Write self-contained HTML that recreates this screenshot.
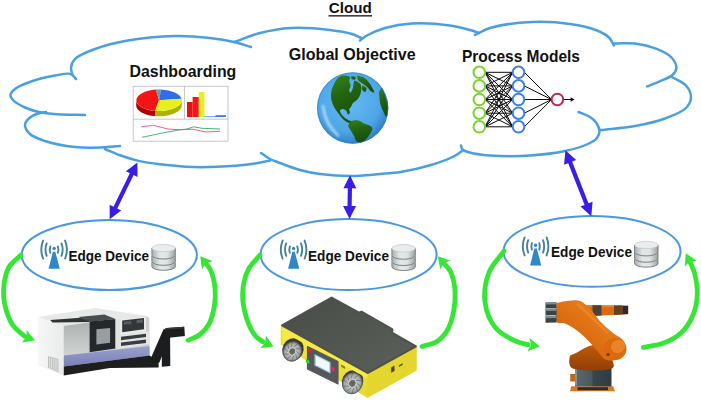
<!DOCTYPE html>
<html><head><meta charset="utf-8"><title>Cloud - Edge Device architecture</title>
<style>
html,body{margin:0;padding:0;background:#ffffff;}
body{width:701px;height:400px;overflow:hidden;font-family:"Liberation Sans",sans-serif;}
svg{display:block;}
</style></head><body>
<svg width="701" height="400" viewBox="0 0 701 400">
<rect width="701" height="400" fill="#ffffff"/>
<g fill="none" stroke="#4a9fe3" stroke-width="2.5" stroke-linecap="round" stroke-linejoin="round">
<path d="M72.5,75.0 C72.0,72.5 70.7,70.0 71.0,67.5 C71.3,64.7 72.5,61.6 75.0,59.0 C78.9,55.0 87.5,51.8 95.0,49.0 C103.8,45.7 113.6,43.1 125.0,41.0 C139.5,38.4 159.8,36.3 175.0,36.0 C187.7,35.7 199.5,36.8 210.0,38.0 C218.8,39.0 226.7,40.3 234.0,42.0 C240.2,43.4 245.3,45.3 251.0,47.0"/>
<path d="M234.0,42.0 C242.7,39.0 250.8,35.3 260.0,33.0 C269.8,30.5 280.0,28.6 291.0,28.0 C303.2,27.3 318.9,28.7 330.0,30.0 C338.4,31.0 346.3,32.3 352.0,34.0 C355.9,35.2 358.3,36.7 361.5,38.0"/>
<path d="M360.0,40.5 C362.0,39.0 363.3,37.5 366.0,36.0 C370.5,33.4 378.0,30.0 385.0,28.0 C393.1,25.7 402.2,24.1 412.0,23.5 C423.6,22.8 439.4,24.0 450.0,25.5 C457.8,26.6 464.7,28.5 470.0,30.0 C473.6,31.0 476.0,32.0 479.0,33.0"/>
<path d="M475.0,35.0 C480.0,32.7 483.6,29.9 490.0,28.0 C500.3,24.9 518.3,22.6 532.0,22.0 C545.0,21.4 558.5,22.3 570.0,24.0 C579.8,25.4 590.0,27.7 597.0,30.5 C602.0,32.5 606.1,34.7 609.0,37.5 C611.4,39.8 612.3,42.8 614.0,45.5"/>
<path d="M614.5,43.5 C621.3,43.5 628.2,42.7 635.0,43.5 C642.0,44.3 649.7,46.1 656.0,48.6 C661.6,50.8 667.5,53.4 671.0,57.0 C673.9,60.0 676.4,64.3 676.4,67.5 C676.4,70.2 674.7,72.9 672.5,75.0 C669.6,77.8 663.4,79.6 659.0,81.6 C654.9,83.4 651.0,84.8 647.0,86.4"/>
<path d="M671.0,76.5 C676.0,79.5 682.6,81.6 686.0,85.5 C688.9,88.8 691.1,93.7 691.0,97.5 C690.9,101.1 689.0,104.9 686.0,108.0 C681.7,112.4 672.8,115.6 665.0,118.5 C656.1,121.8 645.4,124.1 635.0,126.0 C624.0,128.0 612.0,128.7 600.5,130.0"/>
<path d="M578.6,112.0 C582.4,113.7 586.9,115.0 590.0,117.0 C592.5,118.6 594.4,120.3 596.0,122.5 C597.7,124.9 599.4,128.3 599.5,131.0 C599.6,133.4 598.5,136.0 597.0,138.0 C595.2,140.3 592.5,141.8 589.0,143.5 C583.3,146.3 573.8,149.1 565.0,151.0 C554.5,153.3 541.2,154.7 530.0,155.5 C519.6,156.3 508.7,156.2 500.0,156.0 C493.2,155.8 487.6,155.5 482.0,154.8 C477.0,154.1 471.5,153.1 468.0,152.0 C465.7,151.3 463.7,150.7 462.5,149.5 C461.5,148.5 461.5,146.8 461.0,145.5"/>
<path d="M462.0,151.0 C459.2,152.8 457.2,154.7 453.6,156.5 C448.0,159.3 439.2,162.5 431.0,165.0 C421.7,167.8 409.7,170.5 400.5,172.0 C393.0,173.2 387.4,173.4 380.0,174.0 C371.2,174.7 360.8,176.0 351.0,176.0 C340.8,176.0 329.2,175.2 320.0,174.0 C312.6,173.0 306.6,171.8 300.0,170.0 C293.3,168.2 285.5,165.1 280.0,163.0 C276.1,161.5 273.2,160.7 270.0,159.0 C266.8,157.3 264.0,155.0 261.0,153.0"/>
<path d="M270.0,160.5 C265.0,161.5 260.3,162.7 255.0,163.5 C249.0,164.5 243.3,165.2 235.6,165.8 C224.1,166.6 206.1,167.4 192.8,167.0 C181.1,166.7 169.9,165.5 160.0,164.3 C151.8,163.3 144.5,162.2 137.5,160.6 C131.2,159.1 125.6,157.3 120.0,155.3 C114.8,153.4 110.0,151.1 105.0,149.0"/>
<path d="M120.0,146.0 C113.3,146.5 107.0,147.3 100.0,147.5 C92.1,147.7 83.7,147.9 75.0,147.0 C65.4,146.0 53.2,143.7 45.0,141.0 C39.0,139.0 33.4,137.2 30.0,134.0 C27.3,131.5 24.9,127.8 25.0,125.0 C25.1,122.4 27.6,119.5 30.0,117.5 C32.7,115.2 38.0,113.5 41.0,112.7 C42.9,112.2 44.3,112.2 46.0,112.0"/>
<path d="M85.0,115.0 C77.5,114.8 69.9,114.9 62.5,114.5 C55.2,114.1 47.6,113.8 41.0,112.5 C35.2,111.3 29.8,109.7 25.0,107.5 C20.6,105.5 15.4,102.6 13.0,100.0 C11.5,98.4 10.3,96.7 10.5,95.0 C10.7,93.0 12.7,90.9 15.0,89.0 C18.7,86.0 26.2,83.2 32.5,81.0 C39.4,78.6 48.1,76.7 55.0,75.5 C60.7,74.5 67.4,72.7 71.0,74.0 C73.4,74.9 74.3,77.3 76.0,79.0"/>
</g>
<ellipse cx="109.3" cy="255.0" rx="87.6" ry="35.0" fill="none" stroke="#4a98e0" stroke-width="2"/>
<ellipse cx="348.6" cy="254.5" rx="88.0" ry="35.5" fill="none" stroke="#4a98e0" stroke-width="2"/>
<ellipse cx="592.0" cy="251.4" rx="88.5" ry="35.4" fill="none" stroke="#4a98e0" stroke-width="2"/>
<polygon points="137.4,162.5 125.9,171.3 129.8,173.3 113.5,206.7 109.6,204.8 109.7,219.3 121.2,210.5 117.3,208.5 133.6,175.1 137.5,177.0" fill="#3a1ee6"/>
<polygon points="350.0,175.3 343.4,188.2 347.8,188.3 347.5,206.0 343.1,205.9 349.5,219.0 356.1,206.1 351.7,206.0 352.0,188.3 356.4,188.4" fill="#3a1ee6"/>
<polygon points="565.4,150.3 564.1,164.8 568.2,163.2 584.6,204.9 580.5,206.5 591.3,216.2 592.6,201.7 588.5,203.3 572.1,161.6 576.2,160.0" fill="#3a1ee6"/>
<path d="M21.0,255.0 C17.0,259.0 11.8,262.2 9.0,267.0 C6.0,272.1 4.7,278.9 4.0,285.0 C3.3,290.9 3.3,296.9 4.5,303.0 C5.8,309.8 8.9,318.9 12.0,324.0 C14.2,327.6 17.1,329.8 19.5,332.0 C21.4,333.8 23.2,335.0 25.0,336.5" fill="none" stroke="#35e635" stroke-width="4.8" stroke-linecap="round"/>
<polygon points="35.0,340.3 21.9,342.5 26.6,337.1 26.6,329.9" fill="#35e635"/>
<path d="M188.0,340.3 C192.0,338.4 196.5,337.2 200.0,334.5 C203.5,331.8 206.7,328.3 209.0,324.0 C211.7,319.0 213.4,312.1 214.4,306.0 C215.4,300.1 215.6,294.0 215.0,288.0 C214.4,282.0 212.6,274.5 210.5,270.0 C209.1,267.0 207.2,265.3 205.5,263.0" fill="none" stroke="#35e635" stroke-width="4.8" stroke-linecap="round"/>
<polygon points="200.2,256.3 212.6,261.1 205.8,263.4 202.0,269.5" fill="#35e635"/>
<path d="M260.0,255.0 C256.0,260.0 250.9,264.0 248.0,270.0 C244.8,276.8 242.8,286.0 242.6,294.0 C242.4,302.0 244.2,310.7 246.5,318.0 C248.6,324.6 252.1,331.9 255.5,336.0 C257.8,338.8 260.5,339.9 263.0,341.8" fill="none" stroke="#35e635" stroke-width="4.8" stroke-linecap="round"/>
<polygon points="273.5,346.5 260.2,348.0 265.3,342.8 265.8,335.6" fill="#35e635"/>
<path d="M422.0,346.5 C427.0,344.8 432.7,344.3 437.0,341.5 C441.2,338.8 444.8,334.6 447.5,330.0 C450.5,324.9 452.2,318.3 453.5,312.0 C454.8,305.3 455.5,297.8 455.0,291.0 C454.5,284.3 452.9,276.4 450.5,271.5 C448.8,268.0 446.2,266.2 444.0,263.5" fill="none" stroke="#35e635" stroke-width="4.8" stroke-linecap="round"/>
<polygon points="437.8,256.3 450.4,260.6 443.7,263.1 440.2,269.4" fill="#35e635"/>
<path d="M504.0,251.0 C499.0,258.2 492.2,264.3 489.0,272.5 C485.6,281.2 483.8,292.7 485.0,302.0 C486.1,311.0 490.0,321.1 495.5,327.7 C500.7,334.0 510.5,338.7 516.7,341.5 C520.9,343.4 524.2,343.6 528.0,344.6" fill="none" stroke="#35e635" stroke-width="4.8" stroke-linecap="round"/>
<polygon points="539.8,346.5 527.4,351.3 530.9,345.1 529.5,338.0" fill="#35e635"/>
<path d="M643.5,347.4 C650.0,346.0 656.8,345.7 663.0,343.3 C669.3,340.9 676.0,337.6 681.0,333.0 C686.1,328.3 690.3,321.5 693.0,315.0 C695.7,308.5 697.1,301.0 697.3,294.0 C697.5,287.0 696.0,278.8 694.5,273.0 C693.3,268.7 691.5,265.7 690.0,262.0" fill="none" stroke="#35e635" stroke-width="4.8" stroke-linecap="round"/>
<polygon points="685.8,253.3 696.9,260.7 689.7,261.4 684.7,266.6" fill="#35e635"/>
<text x="328.8" y="13.2" font-size="15.4" font-family="Liberation Sans, sans-serif" font-weight="bold" fill="#111" textLength="43.0" lengthAdjust="spacingAndGlyphs" >Cloud</text>
<rect x="328.5" y="15.2" width="43.5" height="1.3" fill="#111"/>
<text x="129.5" y="76.8" font-size="16.6" font-family="Liberation Sans, sans-serif" font-weight="bold" fill="#111" textLength="106.8" lengthAdjust="spacingAndGlyphs" >Dashboarding</text>
<text x="288.8" y="59.6" font-size="17.3" font-family="Liberation Sans, sans-serif" font-weight="bold" fill="#111" textLength="126.8" lengthAdjust="spacingAndGlyphs" >Global Objective</text>
<text x="462.0" y="62.3" font-size="16.6" font-family="Liberation Sans, sans-serif" font-weight="bold" fill="#111" textLength="118.0" lengthAdjust="spacingAndGlyphs" >Process Models</text>
<text x="68.4" y="260.6" font-size="15.2" font-family="Liberation Sans, sans-serif" font-weight="bold" fill="#111" textLength="80.6" lengthAdjust="spacingAndGlyphs" >Edge Device</text>
<text x="308.0" y="260.6" font-size="15.2" font-family="Liberation Sans, sans-serif" font-weight="bold" fill="#111" textLength="81.0" lengthAdjust="spacingAndGlyphs" >Edge Device</text>
<text x="551.0" y="257.2" font-size="15.2" font-family="Liberation Sans, sans-serif" font-weight="bold" fill="#111" textLength="81.0" lengthAdjust="spacingAndGlyphs" >Edge Device</text>
<g>
<polygon points="52.9,251.8 55.3,251.8 59.8,268.8 48.6,268.8" fill="#2f86c9"/>
<circle cx="54.1" cy="248.4" r="1.7" fill="#2f86c9"/>
<path d="M50.4,246.4 Q49.2,249.6 50.4,252.8" fill="none" stroke="#47819f" stroke-width="1.9" stroke-linecap="round"/>
<path d="M57.8,246.4 Q59.0,249.6 57.8,252.8" fill="none" stroke="#47819f" stroke-width="1.9" stroke-linecap="round"/>
<path d="M46.7,243.4 Q44.3,249.6 46.7,255.8" fill="none" stroke="#47819f" stroke-width="1.9" stroke-linecap="round"/>
<path d="M61.5,243.4 Q63.9,249.6 61.5,255.8" fill="none" stroke="#47819f" stroke-width="1.9" stroke-linecap="round"/>
<path d="M43.1,240.6 Q39.5,249.6 43.1,258.6" fill="none" stroke="#47819f" stroke-width="1.9" stroke-linecap="round"/>
<path d="M65.1,240.6 Q68.7,249.6 65.1,258.6" fill="none" stroke="#47819f" stroke-width="1.9" stroke-linecap="round"/>
</g>
<g>
<polygon points="292.4,251.8 294.8,251.8 299.3,268.8 288.1,268.8" fill="#2f86c9"/>
<circle cx="293.6" cy="248.4" r="1.7" fill="#2f86c9"/>
<path d="M289.9,246.4 Q288.7,249.6 289.9,252.8" fill="none" stroke="#47819f" stroke-width="1.9" stroke-linecap="round"/>
<path d="M297.3,246.4 Q298.5,249.6 297.3,252.8" fill="none" stroke="#47819f" stroke-width="1.9" stroke-linecap="round"/>
<path d="M286.2,243.4 Q283.8,249.6 286.2,255.8" fill="none" stroke="#47819f" stroke-width="1.9" stroke-linecap="round"/>
<path d="M301.0,243.4 Q303.4,249.6 301.0,255.8" fill="none" stroke="#47819f" stroke-width="1.9" stroke-linecap="round"/>
<path d="M282.6,240.6 Q279.0,249.6 282.6,258.6" fill="none" stroke="#47819f" stroke-width="1.9" stroke-linecap="round"/>
<path d="M304.6,240.6 Q308.2,249.6 304.6,258.6" fill="none" stroke="#47819f" stroke-width="1.9" stroke-linecap="round"/>
</g>
<g>
<polygon points="534.4,248.6 536.8,248.6 541.3,265.6 530.1,265.6" fill="#2f86c9"/>
<circle cx="535.6" cy="245.2" r="1.7" fill="#2f86c9"/>
<path d="M531.9,243.2 Q530.7,246.4 531.9,249.6" fill="none" stroke="#47819f" stroke-width="1.9" stroke-linecap="round"/>
<path d="M539.3,243.2 Q540.5,246.4 539.3,249.6" fill="none" stroke="#47819f" stroke-width="1.9" stroke-linecap="round"/>
<path d="M528.2,240.2 Q525.8,246.4 528.2,252.6" fill="none" stroke="#47819f" stroke-width="1.9" stroke-linecap="round"/>
<path d="M543.0,240.2 Q545.4,246.4 543.0,252.6" fill="none" stroke="#47819f" stroke-width="1.9" stroke-linecap="round"/>
<path d="M524.6,237.4 Q521.0,246.4 524.6,255.4" fill="none" stroke="#47819f" stroke-width="1.9" stroke-linecap="round"/>
<path d="M546.6,237.4 Q550.2,246.4 546.6,255.4" fill="none" stroke="#47819f" stroke-width="1.9" stroke-linecap="round"/>
</g>
<g>
<defs><linearGradient id="dbg151" x1="0" x2="1" y1="0" y2="0"><stop offset="0" stop-color="#a9b0b0"/><stop offset="0.35" stop-color="#e4e8e8"/><stop offset="0.65" stop-color="#dfe3e3"/><stop offset="1" stop-color="#9aa2a2"/></linearGradient></defs>
<path d="M151.9,262.4 v4.2 a11.7,3.7 0 0 0 23.4,0 v-4.2 z" fill="url(#dbg151)" stroke="#6f7777" stroke-width="0.9"/>
<ellipse cx="163.6" cy="262.4" rx="11.7" ry="3.7" fill="#d5dada"/>
<path d="M151.9,256.0 v5.6 a11.7,3.7 0 0 0 23.4,0 v-5.6 z" fill="url(#dbg151)" stroke="#6f7777" stroke-width="0.9"/>
<ellipse cx="163.6" cy="256.0" rx="11.7" ry="3.7" fill="#d5dada"/>
<path d="M151.9,248.1 v7.2 a11.7,3.7 0 0 0 23.4,0 v-7.2 z" fill="url(#dbg151)" stroke="#6f7777" stroke-width="0.9"/>
<ellipse cx="163.6" cy="248.1" rx="11.7" ry="3.7" fill="#d5dada"/>
<ellipse cx="163.6" cy="248.1" rx="11.7" ry="3.7" fill="#e9eded" stroke="#b4bbbb" stroke-width="0.5"/>
</g>
<g>
<defs><linearGradient id="dbg391" x1="0" x2="1" y1="0" y2="0"><stop offset="0" stop-color="#a9b0b0"/><stop offset="0.35" stop-color="#e4e8e8"/><stop offset="0.65" stop-color="#dfe3e3"/><stop offset="1" stop-color="#9aa2a2"/></linearGradient></defs>
<path d="M391.9,262.6 v4.2 a11.7,3.7 0 0 0 23.4,0 v-4.2 z" fill="url(#dbg391)" stroke="#6f7777" stroke-width="0.9"/>
<ellipse cx="403.6" cy="262.6" rx="11.7" ry="3.7" fill="#d5dada"/>
<path d="M391.9,256.2 v5.6 a11.7,3.7 0 0 0 23.4,0 v-5.6 z" fill="url(#dbg391)" stroke="#6f7777" stroke-width="0.9"/>
<ellipse cx="403.6" cy="256.2" rx="11.7" ry="3.7" fill="#d5dada"/>
<path d="M391.9,248.3 v7.2 a11.7,3.7 0 0 0 23.4,0 v-7.2 z" fill="url(#dbg391)" stroke="#6f7777" stroke-width="0.9"/>
<ellipse cx="403.6" cy="248.3" rx="11.7" ry="3.7" fill="#d5dada"/>
<ellipse cx="403.6" cy="248.3" rx="11.7" ry="3.7" fill="#e9eded" stroke="#b4bbbb" stroke-width="0.5"/>
</g>
<g>
<defs><linearGradient id="dbg634" x1="0" x2="1" y1="0" y2="0"><stop offset="0" stop-color="#a9b0b0"/><stop offset="0.35" stop-color="#e4e8e8"/><stop offset="0.65" stop-color="#dfe3e3"/><stop offset="1" stop-color="#9aa2a2"/></linearGradient></defs>
<path d="M634.6,259.3 v4.2 a11.7,3.7 0 0 0 23.4,0 v-4.2 z" fill="url(#dbg634)" stroke="#6f7777" stroke-width="0.9"/>
<ellipse cx="646.3" cy="259.3" rx="11.7" ry="3.7" fill="#d5dada"/>
<path d="M634.6,252.9 v5.6 a11.7,3.7 0 0 0 23.4,0 v-5.6 z" fill="url(#dbg634)" stroke="#6f7777" stroke-width="0.9"/>
<ellipse cx="646.3" cy="252.9" rx="11.7" ry="3.7" fill="#d5dada"/>
<path d="M634.6,245.0 v7.2 a11.7,3.7 0 0 0 23.4,0 v-7.2 z" fill="url(#dbg634)" stroke="#6f7777" stroke-width="0.9"/>
<ellipse cx="646.3" cy="245.0" rx="11.7" ry="3.7" fill="#d5dada"/>
<ellipse cx="646.3" cy="245.0" rx="11.7" ry="3.7" fill="#e9eded" stroke="#b4bbbb" stroke-width="0.5"/>
</g>
<g>
<rect x="133.2" y="86.2" width="94.8" height="55" fill="#fff" stroke="#b9b9b9" stroke-width="0.8"/>
<line x1="184.5" y1="86.2" x2="184.5" y2="119.2" stroke="#b9b9b9" stroke-width="0.8"/>
<line x1="133.2" y1="119.2" x2="228" y2="119.2" stroke="#b9b9b9" stroke-width="0.8"/>
<path d="M181.8,100.3 A22.8,10.8 0 0 1 155.0,110.9 L155.0,116.1 A22.8,10.8 0 0 0 181.8,105.5 Z" fill="#a9b300"/>
<path d="M155.0,110.9 A22.8,10.8 0 0 1 136.2,100.3 L136.2,105.5 A22.8,10.8 0 0 0 155.0,116.1 Z" fill="#b00000"/>
<path d="M159.0,100.3 L155.0,110.9 A22.8,10.8 0 0 1 155.8,89.6 Z" fill="#f41414"/>
<path d="M159.0,100.3 L155.8,89.6 A22.8,10.8 0 0 1 161.0,89.5 Z" fill="#6f9a9a"/>
<path d="M159.0,100.3 L161.0,89.5 A22.8,10.8 0 0 1 181.6,98.8 Z" fill="#2e6fe8"/>
<path d="M159.0,100.3 L181.6,98.8 A22.8,10.8 0 0 1 155.0,110.9 Z" fill="#e6f01a"/>
<rect x="187" y="102" width="5.6" height="15" fill="#e81010"/>
<rect x="192.6" y="97" width="6.2" height="20" fill="#f01818"/>
<rect x="198.8" y="92" width="5.7" height="25" fill="#e8f020"/>
<line x1="204.5" y1="116.7" x2="226" y2="116.5" stroke="#6aa6e4" stroke-width="1"/>
<rect x="215.5" y="115.2" width="10.5" height="1.8" fill="#3f7ad6"/>
<polyline points="141.5,126.7 153.5,125.3 168.0,129.0 180.0,129.8 193.0,129.2 206.0,132.0 220.0,131.3" fill="none" stroke="#e8507a" stroke-width="0.9"/>
<polyline points="142.0,137.3 160.0,133.5 179.5,129.8 187.0,129.0 193.8,126.8 202.0,128.3 220.0,129.0" fill="none" stroke="#3aa86a" stroke-width="0.9"/>
</g>
<defs><radialGradient id="gl" cx="0.45" cy="0.4" r="0.62"><stop offset="0" stop-color="#66bbf3"/><stop offset="0.7" stop-color="#4ea6e6"/><stop offset="1" stop-color="#2b7cc6"/></radialGradient><linearGradient id="gland" x1="0" x2="0.3" y1="0" y2="1"><stop offset="0" stop-color="#34801e"/><stop offset="0.5" stop-color="#23620f"/><stop offset="1" stop-color="#1a4f0a"/></linearGradient><clipPath id="gc"><circle cx="352.7" cy="108.0" r="35.7"/></clipPath></defs>
<circle cx="352.7" cy="108.0" r="35.7" fill="url(#gl)"/>
<g clip-path="url(#gc)" fill="url(#gland)">
<path d="M335.0,82.0 C336.3,80.3 337.3,78.1 339.0,77.0 C340.7,76.0 343.1,75.5 345.0,75.6 C346.8,75.7 349.4,76.2 350.0,77.2 C350.5,78.1 349.2,79.5 349.2,80.8 C349.2,82.4 350.7,84.4 350.6,86.0 C350.5,87.4 349.2,88.8 349.2,90.0 C349.2,91.0 349.9,92.8 350.4,92.8 C351.0,92.8 351.9,90.8 352.4,89.6 C352.9,88.3 353.1,86.7 353.4,85.2 C353.7,83.7 353.5,81.2 354.4,80.8 C355.5,80.3 358.9,82.1 360.0,83.6 C361.2,85.1 361.3,87.9 361.2,90.0 C361.1,92.0 360.4,94.3 359.6,96.0 C358.9,97.5 358.1,98.8 357.0,100.0 C355.9,101.2 354.0,101.8 353.0,103.0 C352.0,104.1 351.7,105.9 351.0,107.0 C350.4,107.8 349.5,108.1 349.2,109.0 C348.9,110.0 350.2,112.1 349.8,113.0 C349.5,113.7 348.5,114.5 348.0,114.4 C347.3,114.2 347.2,111.9 346.4,111.0 C345.6,110.1 344.1,109.1 343.0,109.0 C342.0,109.0 340.3,109.6 340.0,110.4 C339.6,111.4 341.1,113.7 342.0,115.0 C342.9,116.3 344.4,117.5 345.6,118.4 C346.7,119.2 347.9,119.9 349.0,120.4 C350.0,120.9 351.9,121.1 352.0,121.6 C352.1,122.0 350.8,123.1 350.0,123.2 C348.9,123.4 347.3,122.4 346.0,121.6 C344.6,120.7 343.3,119.4 342.0,118.0 C340.6,116.5 339.3,114.8 338.0,113.0 C336.6,111.1 335.1,109.1 334.0,107.0 C332.9,104.8 331.9,102.5 331.4,100.0 C330.9,97.2 330.8,93.9 331.4,91.0 C332.0,87.9 333.8,85.0 335.0,82.0 Z"/>
<path d="M348.0,126.0 C349.0,124.5 349.5,122.5 351.0,121.6 C352.7,120.5 355.7,120.0 358.0,120.4 C360.4,120.8 362.7,123.0 365.0,124.0 C367.1,124.9 370.1,125.2 371.2,126.4 C372.0,127.2 372.3,128.1 372.2,129.2 C372.1,130.8 370.4,133.2 369.2,135.0 C368.0,136.8 366.7,138.7 365.2,140.0 C363.9,141.1 362.5,142.4 361.0,142.6 C359.5,142.8 357.6,142.2 356.4,141.2 C355.1,140.1 354.9,137.7 354.0,136.0 C353.1,134.3 352.0,132.7 351.0,131.0 C350.0,129.3 349.0,127.7 348.0,126.0 Z"/>
<path d="M379.0,92.0 C380.0,90.7 381.1,87.9 382.0,88.0 C383.2,88.2 384.2,93.2 385.2,96.0 C386.3,99.1 387.8,102.6 388.0,106.0 C388.2,109.5 387.4,116.6 386.4,116.8 C385.6,116.9 384.2,113.3 383.2,111.2 C382.1,108.8 380.9,106.1 380.2,103.2 C379.4,99.8 379.4,95.7 379.0,92.0 Z"/>
<path d="M357.0,75.6 C359.5,76.4 362.3,76.7 364.4,78.0 C366.4,79.2 368.0,81.2 369.4,83.0 C370.6,84.6 371.6,86.4 372.4,88.0 C373.1,89.5 374.6,91.9 374.2,92.4 C373.9,92.8 372.2,92.2 371.2,91.6 C369.8,90.7 368.7,88.4 367.2,87.0 C365.7,85.6 363.8,84.4 362.2,83.2 C360.7,82.1 358.9,81.3 358.0,80.0 C357.2,78.8 357.3,77.1 357.0,75.6 Z"/>
<path d="M351.2,76.0 C352.7,76.4 355.2,76.4 355.6,77.2 C355.9,77.8 355.4,79.3 354.8,79.6 C354.1,80.0 352.2,79.5 351.6,78.8 C351.1,78.2 351.3,76.9 351.2,76.0 Z"/>
<path d="M362.0,85.6 C363.5,86.4 365.9,86.9 366.4,88.0 C366.8,89.0 365.9,91.8 365.2,92.0 C364.5,92.2 362.5,90.7 362.0,89.6 C361.5,88.5 362.0,86.9 362.0,85.6 Z"/>
</g>
<defs><filter id="gbl" x="-50%" y="-50%" width="200%" height="200%"><feGaussianBlur stdDeviation="0.9"/></filter></defs>
<path d="M323,106 Q325,124 338,135.5" fill="none" stroke="#b4e2fc" stroke-width="3" stroke-linecap="round" opacity="0.8" filter="url(#gbl)"/>
<circle cx="352.7" cy="108.0" r="35.2" fill="none" stroke="#2a78c2" stroke-width="1" opacity="0.5"/>
<g stroke="#0a0a0a" stroke-width="1">
<line x1="485.1" y1="72.3" x2="512.7" y2="72.3"/>
<line x1="485.1" y1="72.3" x2="512.7" y2="85.9"/>
<line x1="485.1" y1="72.3" x2="512.7" y2="99.5"/>
<line x1="485.1" y1="72.3" x2="512.7" y2="113.2"/>
<line x1="485.1" y1="72.3" x2="512.7" y2="126.8"/>
<line x1="485.1" y1="85.9" x2="512.7" y2="72.3"/>
<line x1="485.1" y1="85.9" x2="512.7" y2="85.9"/>
<line x1="485.1" y1="85.9" x2="512.7" y2="99.5"/>
<line x1="485.1" y1="85.9" x2="512.7" y2="113.2"/>
<line x1="485.1" y1="85.9" x2="512.7" y2="126.8"/>
<line x1="485.1" y1="99.5" x2="512.7" y2="72.3"/>
<line x1="485.1" y1="99.5" x2="512.7" y2="85.9"/>
<line x1="485.1" y1="99.5" x2="512.7" y2="99.5"/>
<line x1="485.1" y1="99.5" x2="512.7" y2="113.2"/>
<line x1="485.1" y1="99.5" x2="512.7" y2="126.8"/>
<line x1="485.1" y1="113.2" x2="512.7" y2="72.3"/>
<line x1="485.1" y1="113.2" x2="512.7" y2="85.9"/>
<line x1="485.1" y1="113.2" x2="512.7" y2="99.5"/>
<line x1="485.1" y1="113.2" x2="512.7" y2="113.2"/>
<line x1="485.1" y1="113.2" x2="512.7" y2="126.8"/>
<line x1="485.1" y1="126.8" x2="512.7" y2="72.3"/>
<line x1="485.1" y1="126.8" x2="512.7" y2="85.9"/>
<line x1="485.1" y1="126.8" x2="512.7" y2="99.5"/>
<line x1="485.1" y1="126.8" x2="512.7" y2="113.2"/>
<line x1="485.1" y1="126.8" x2="512.7" y2="126.8"/>
<line x1="524.3" y1="72.3" x2="551.6" y2="99.5"/>
<line x1="524.3" y1="85.9" x2="551.6" y2="99.5"/>
<line x1="524.3" y1="99.5" x2="551.6" y2="99.5"/>
<line x1="524.3" y1="113.2" x2="551.6" y2="99.5"/>
<line x1="524.3" y1="126.8" x2="551.6" y2="99.5"/>
<line x1="563.9" y1="99.5" x2="573.0" y2="99.5"/>
</g>
<polygon points="574.6,99.5 570.6,97.3 570.6,101.7" fill="#111"/>
<circle cx="479.3" cy="72.3" r="5.8" fill="#fff" stroke="#7ad231" stroke-width="2"/>
<circle cx="518.5" cy="72.3" r="5.8" fill="#fff" stroke="#3f7ee8" stroke-width="2"/>
<circle cx="479.3" cy="85.9" r="5.8" fill="#fff" stroke="#7ad231" stroke-width="2"/>
<circle cx="518.5" cy="85.9" r="5.8" fill="#fff" stroke="#3f7ee8" stroke-width="2"/>
<circle cx="479.3" cy="99.5" r="5.8" fill="#fff" stroke="#7ad231" stroke-width="2"/>
<circle cx="518.5" cy="99.5" r="5.8" fill="#fff" stroke="#3f7ee8" stroke-width="2"/>
<circle cx="479.3" cy="113.2" r="5.8" fill="#fff" stroke="#7ad231" stroke-width="2"/>
<circle cx="518.5" cy="113.2" r="5.8" fill="#fff" stroke="#3f7ee8" stroke-width="2"/>
<circle cx="479.3" cy="126.8" r="5.8" fill="#fff" stroke="#7ad231" stroke-width="2"/>
<circle cx="518.5" cy="126.8" r="5.8" fill="#fff" stroke="#3f7ee8" stroke-width="2"/>
<circle cx="557.4" cy="99.5" r="5.8" fill="#fff" stroke="#c0264e" stroke-width="2"/>
<defs>
<linearGradient id="mpur" x1="0" x2="0" y1="0" y2="1"><stop offset="0" stop-color="#9a9fd0"/><stop offset="1" stop-color="#7a80b4"/></linearGradient>
<linearGradient id="mpan" x1="0" x2="0" y1="0" y2="1"><stop offset="0" stop-color="#aeb2b0"/><stop offset="1" stop-color="#d0d3d1"/></linearGradient>
<linearGradient id="mlf" x1="0" x2="1" y1="0" y2="0"><stop offset="0" stop-color="#f6f7f6"/><stop offset="1" stop-color="#e9ebea"/></linearGradient>
</defs>
<g>
<polygon points="37.9,316.9 95.3,307.9 146.0,315.8 149.4,317.6 63.8,325.9" fill="#e6e9e8" />
<polygon points="37.9,316.9 63.8,325.9 63.8,375.4 37.9,365.3" fill="url(#mlf)" />
<polygon points="63.8,325.9 146.0,316.2 149.4,318.0 149.4,355.1 63.8,366.4" fill="#cfd2d1" />
<polygon points="63.8,325.9 89.6,322.5 89.6,352.2 63.8,355.4" fill="url(#mpan)" />
<polygon points="50.3,320.0 80.6,317.8 89.6,320.3 89.6,322.1 52.5,322.5" fill="#303335" />
<polygon points="78.4,317.1 104.3,314.4 115.5,318.9 89.6,321.8" fill="#4b4e50" />
<polygon points="89.6,321.6 115.5,318.9 115.5,348.6 89.6,352.2" fill="#25282a" />
<polygon points="96.4,329.3 110.1,327.9 110.1,342.8 96.4,344.6" fill="#989d9f" />
<polygon points="115.5,318.9 120.1,319.1 120.1,350.0 115.5,348.6" fill="#dfe2e1" />
<polygon points="120.1,319.1 146.0,316.2 146.0,332.0 120.1,335.1" fill="#e9ebea" />
<polygon points="122.2,320.5 144.0,318.0 144.0,329.3 122.2,332.2" fill="#34373a" />
<polygon points="124.0,321.6 131.4,320.7 131.4,323.9 124.0,324.8" fill="#55595c" />
<polygon points="136.6,320.3 142.9,319.6 142.9,322.5 136.6,323.2" fill="#5c6063" />
<polygon points="120.1,335.1 149.6,331.5 149.6,344.1 120.1,348.6" fill="#e2e5e4" />
<polygon points="121.0,336.7 146.0,333.8 146.0,337.1 121.0,340.3" fill="#3a3d40" />
<polygon points="121.0,342.5 146.0,339.6 146.0,343.0 121.0,346.1" fill="#3a3d40" />
<polygon points="63.8,355.4 149.6,346.1 149.6,355.4 63.8,366.6" fill="url(#mpur)" />
<polygon points="63.8,366.6 149.6,355.4 158.6,362.1 158.6,367.5 110.0,368.0 63.8,375.6" fill="#1c1e20" />
<polygon points="48.0,356.3 58.4,359.0 58.4,372.2 48.0,367.5" fill="#b4b8b8" />
<line x1="49.4" y1="357.2" x2="49.4" y2="367.7" stroke="#f2f3f3" stroke-width="0.8"/>
<line x1="51.3" y1="357.7" x2="51.3" y2="368.6" stroke="#f2f3f3" stroke-width="0.8"/>
<line x1="53.2" y1="358.1" x2="53.2" y2="369.4" stroke="#f2f3f3" stroke-width="0.8"/>
<line x1="55.1" y1="358.6" x2="55.1" y2="370.3" stroke="#f2f3f3" stroke-width="0.8"/>
<line x1="57.0" y1="359.1" x2="57.0" y2="371.2" stroke="#f2f3f3" stroke-width="0.8"/>
<polygon points="150.5,359.0 163.3,329.7 169.4,331.5 169.4,338.7 159.1,363.0" fill="#1b1d1f" />
<polygon points="163.3,329.7 166.7,327.9 184.3,326.8 184.9,336.0 169.0,337.8" fill="#1b1d1f" />
<polygon points="161.8,338.3 170.1,337.1 170.3,365.9 161.8,366.8" fill="#1b1d1f" />
<polygon points="163.3,329.7 166.7,327.9 184.3,326.8 182.5,328.4 167.4,329.5" fill="#34373a" />
</g>
<defs>
<linearGradient id="agt" x1="0" x2="1" y1="0" y2="1"><stop offset="0" stop-color="#484c48"/><stop offset="1" stop-color="#5b605a"/></linearGradient>
<linearGradient id="agy" x1="0" x2="0" y1="0" y2="1"><stop offset="0" stop-color="#f6ec48"/><stop offset="1" stop-color="#e6d830"/></linearGradient>
<radialGradient id="agw" cx="0.5" cy="0.5" r="0.5"><stop offset="0" stop-color="#5a5e5c"/><stop offset="0.3" stop-color="#6a6e6c"/><stop offset="0.34" stop-color="#c4c8c6"/><stop offset="0.8" stop-color="#a4a9a7"/><stop offset="1" stop-color="#6a6f6d"/></radialGradient>
</defs>
<g stroke-linejoin="round">
<polygon points="281.5,326.0 367.5,373.5 367.5,397.0 281.5,344.0" fill="url(#agy)" stroke="#e9dc34" stroke-width="1.5"/>
<polygon points="367.5,373.5 416.0,347.0 416.0,370.0 367.5,397.0" fill="#e4d62e" stroke="#e4d62e" stroke-width="1.5"/>
<ellipse cx="293.0" cy="349.5" rx="10.5" ry="11.5" fill="#3a3b30" transform="rotate(28 293.0 349.5)"/>
<ellipse cx="352.6" cy="381.5" rx="10.5" ry="11.5" fill="#3a3b30" transform="rotate(28 352.6 381.5)"/>
<ellipse cx="292.3" cy="351.5" rx="9.0" ry="10.0" fill="url(#agw)" stroke="#5c605e" stroke-width="0.8" transform="rotate(28 292.3 351.5)"/>
<line x1="296.5" y1="351.5" x2="300.3" y2="354.8" stroke="#5e6361" stroke-width="0.7"/>
<line x1="295.7" y1="354.2" x2="297.0" y2="359.4" stroke="#5e6361" stroke-width="0.7"/>
<line x1="293.6" y1="355.9" x2="292.0" y2="361.0" stroke="#5e6361" stroke-width="0.7"/>
<line x1="291.0" y1="355.9" x2="287.1" y2="359.0" stroke="#5e6361" stroke-width="0.7"/>
<line x1="288.9" y1="354.2" x2="284.1" y2="354.1" stroke="#5e6361" stroke-width="0.7"/>
<line x1="288.1" y1="351.5" x2="284.3" y2="348.2" stroke="#5e6361" stroke-width="0.7"/>
<line x1="288.9" y1="348.8" x2="287.6" y2="343.6" stroke="#5e6361" stroke-width="0.7"/>
<line x1="291.0" y1="347.1" x2="292.6" y2="342.0" stroke="#5e6361" stroke-width="0.7"/>
<line x1="293.6" y1="347.1" x2="297.5" y2="344.0" stroke="#5e6361" stroke-width="0.7"/>
<line x1="295.7" y1="348.8" x2="300.5" y2="348.9" stroke="#5e6361" stroke-width="0.7"/>
<ellipse cx="352.4" cy="383.3" rx="9.7" ry="10.8" fill="url(#agw)" stroke="#5c605e" stroke-width="0.8" transform="rotate(28 352.4 383.3)"/>
<line x1="356.9" y1="383.3" x2="361.0" y2="386.8" stroke="#5e6361" stroke-width="0.7"/>
<line x1="356.1" y1="386.2" x2="357.5" y2="391.8" stroke="#5e6361" stroke-width="0.7"/>
<line x1="353.8" y1="388.0" x2="352.1" y2="393.6" stroke="#5e6361" stroke-width="0.7"/>
<line x1="351.0" y1="388.0" x2="346.7" y2="391.4" stroke="#5e6361" stroke-width="0.7"/>
<line x1="348.7" y1="386.2" x2="343.6" y2="386.1" stroke="#5e6361" stroke-width="0.7"/>
<line x1="347.9" y1="383.3" x2="343.8" y2="379.8" stroke="#5e6361" stroke-width="0.7"/>
<line x1="348.7" y1="380.4" x2="347.3" y2="374.8" stroke="#5e6361" stroke-width="0.7"/>
<line x1="351.0" y1="378.6" x2="352.7" y2="373.0" stroke="#5e6361" stroke-width="0.7"/>
<line x1="353.8" y1="378.6" x2="358.1" y2="375.2" stroke="#5e6361" stroke-width="0.7"/>
<line x1="356.1" y1="380.4" x2="361.2" y2="380.5" stroke="#5e6361" stroke-width="0.7"/>
<polygon points="281.5,326.0 367.5,373.5 367.5,378.5 281.5,331.0" fill="#f4ea44" />
<polygon points="307.5,346.5 338.0,361.5 338.0,384.0 307.5,369.0" fill="#55585a" stroke="#55585a" stroke-width="1.2"/>
<polygon points="314.5,354.0 330.5,362.2 330.5,373.5 314.5,365.5" fill="#9fd4ee" />
<polygon points="316.0,356.0 329.2,362.8 329.2,371.8 316.0,365.0" fill="#f2f8fb" />
<polygon points="308.0,348.5 311.0,350.0 311.0,353.0 308.0,351.5" fill="#e22424" />
<polygon points="305.8,359.0 309.5,360.8 309.5,364.0 305.8,362.2" fill="#28d428" />
<polygon points="331.5,366.5 334.5,368.0 334.5,372.0 331.5,370.5" fill="#e42a58" />
<polygon points="341.2,364.5 345.0,366.5 345.0,369.0 341.2,367.0" fill="#8a8430" />
<polygon points="282.0,325.3 331.6,297.6 359.0,312.6 361.5,311.6 392.5,329.4 392.0,332.6 416.0,346.3 367.5,373.0" fill="url(#agt)" stroke="#4e524e" stroke-width="2"/>
<polygon points="391.2,367.6 394.5,365.6 394.5,370.9 391.2,372.8" fill="#4a4626" />
<polygon points="398.9,365.4 402.7,363.2 402.7,364.8 398.9,367.0" fill="#4a4626" />
</g>
<defs>
<linearGradient id="rarm" x1="0" x2="1" y1="1" y2="0"><stop offset="0" stop-color="#c25a0a"/><stop offset="0.55" stop-color="#e27414"/><stop offset="1" stop-color="#ee8a2c"/></linearGradient>
<linearGradient id="rtur" x1="0" x2="0" y1="0" y2="1"><stop offset="0" stop-color="#c05a0c"/><stop offset="1" stop-color="#8f3f06"/></linearGradient>
<linearGradient id="rbase" x1="0" x2="1" y1="0" y2="0"><stop offset="0" stop-color="#5a6a70"/><stop offset="0.45" stop-color="#4a595f"/><stop offset="0.5" stop-color="#37464b"/><stop offset="1" stop-color="#2f3c41"/></linearGradient>
</defs>
<g>
<polygon points="571.2,386.2 613.2,386.2 615.0,391.2 570.0,391.2" fill="#d9781c" />
<polygon points="577.5,387.2 608.0,387.2 608.0,390.2 577.5,390.2" fill="#2a2e30" />
<polygon points="575.0,367.5 611.5,367.5 611.5,386.5 575.0,386.5" fill="url(#rbase)" />
<polyline points="576.0,385.5 576.0,368.5 610.5,368.5" fill="none" stroke="#d6dcdc" stroke-width="0.7"/>
<polygon points="570.2,374.0 575.0,374.0 575.0,381.5 570.2,381.5" fill="#c0681c" />
<path d="M570.0,355.5 C572.5,354.4 574.9,353.5 577.5,352.2 C580.6,350.7 584.1,348.0 587.5,346.8 C590.6,345.6 594.1,344.3 597.0,345.0 C600.1,345.7 602.9,349.0 605.5,351.5 C608.1,354.1 611.3,357.5 612.5,360.5 C613.4,362.9 614.6,366.0 613.0,367.8 C609.2,371.8 576.8,371.3 571.5,367.8 C569.5,366.4 569.5,364.0 569.2,362.0 C569.0,359.9 569.8,357.7 570.0,355.5 Z" fill="url(#rtur)"/>
<polygon points="584.0,305.0 628.0,305.5 628.0,314.2 590.0,316.0 584.0,312.5" fill="#d96a10" />
<polygon points="584.0,305.0 628.0,305.5 628.0,307.5 584.0,307.2" fill="#f08c30" opacity="0.6"/>
<polygon points="592.5,305.2 601.5,305.2 601.5,315.5 592.5,316.0" fill="#4c4038" />
<polygon points="614.0,305.5 622.8,305.5 622.8,314.5 614.0,315.0" fill="#6a3e20" />
<polygon points="622.8,306.0 628.2,306.0 628.2,314.0 622.8,314.2" fill="#2c2a2a" />
<path d="M556.5,303.0 C560.2,302.3 563.7,301.3 567.5,301.0 C571.5,300.6 576.3,299.7 580.0,301.0 C583.8,302.3 586.8,305.6 590.0,308.8 C593.6,312.2 596.3,317.3 600.0,321.2 C603.8,325.3 608.4,329.1 612.5,332.5 C616.3,335.7 621.7,337.8 623.8,341.2 C625.5,344.2 626.4,348.3 625.5,351.2 C624.5,354.4 620.8,358.1 617.5,359.5 C614.1,360.9 608.9,360.9 605.5,359.5 C602.2,358.1 600.2,354.2 597.5,351.2 C594.6,348.1 592.0,344.6 588.8,341.2 C585.1,337.5 580.5,333.1 576.2,330.0 C572.5,327.3 568.6,324.8 565.0,323.5 C562.1,322.4 558.2,324.0 556.5,322.0 C554.0,319.0 556.5,309.3 556.5,303.0 Z" fill="url(#rarm)"/>
<path d="M577.5,304.0 C582.1,308.3 586.5,312.5 591.2,317.0 C596.4,321.9 602.1,327.3 607.5,332.5" fill="none" stroke="#f08c30" stroke-width="2.4" stroke-linecap="round" opacity="0.7"/>
<ellipse cx="615.0" cy="349.0" rx="11.5" ry="11" fill="#d96a10"/>
<ellipse cx="618.0" cy="346.5" rx="7.2" ry="6.4" fill="#f08c30" opacity="0.75" transform="rotate(-25 618.0 346.5)"/>
<circle cx="608.0" cy="354.5" r="1.6" fill="#7a3606"/>
<polygon points="545.5,302.5 556.5,302.2 556.5,308.2 545.5,308.5" fill="#3b4144" />
<polygon points="545.5,302.5 556.5,302.2 556.5,304.2 545.5,304.5" fill="#7f8e96" />
<polygon points="545.5,309.0 556.5,308.8 556.5,315.2 545.5,315.5" fill="#3b4144" />
<polygon points="545.5,309.0 556.5,308.8 556.5,310.8 545.5,311.0" fill="#7f8e96" />
<polygon points="545.5,316.2 556.5,316.0 556.5,322.5 545.5,322.8" fill="#3b4144" />
<polygon points="545.5,316.2 556.5,316.0 556.5,318.0 545.5,318.2" fill="#7f8e96" />
</g>
</svg>
</body></html>
